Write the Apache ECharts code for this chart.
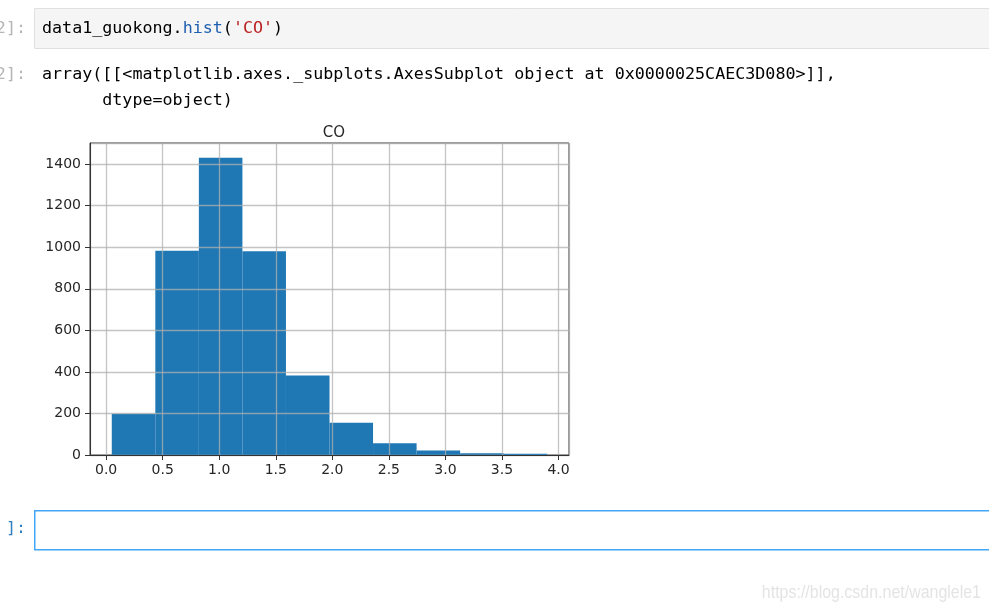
<!DOCTYPE html>
<html>
<head>
<meta charset="utf-8">
<script src="https://cdn.jsdelivr.net/npm/echarts@6/dist/echarts.min.js"></script>
<style>
html,body{margin:0;padding:0;background:#fff;}
#chart{width:989px;height:611px;}
</style>
</head>
<body>
<div id="chart"></div>
<script>
// Histogram of CO (10 bins)
const binEdges = [0.05, 0.435, 0.82, 1.205, 1.59, 1.975, 2.36, 2.745, 3.13, 3.515, 3.9];
const counts = [198, 983, 1430, 980, 382, 155, 56, 22, 8, 6];
const title = 'CO';
const outLine1 = "array([[<matplotlib.axes._subplots.AxesSubplot object at 0x0000025CAEC3D080>]],";
const outLine2 = "      dtype=object)";
const watermark = "https://blog.csdn.net/wanglele1";

const binData = counts.map((c, i) => [binEdges[i], binEdges[i + 1], c]);
const lo = binEdges[0], hi = binEdges[binEdges.length - 1];
const pad = (hi - lo) * 0.05;
const yMax = Math.max(...counts) * 1.05;

const mono = "'DejaVu Sans Mono', 'Liberation Mono', monospace";
const chart = echarts.init(document.getElementById('chart'));
chart.setOption({
  animation: false,
  backgroundColor: '#fff',
  title: {
    text: title, left: 329, top: 121, textAlign: 'center',
    textStyle: { fontSize: 15, fontWeight: 'normal', color: '#262626', fontFamily: 'DejaVu Sans' }
  },
  grid: { left: 90, top: 143, right: 420, bottom: 156, show: true, borderColor: '#333', borderWidth: 1, backgroundColor: 'transparent' },
  xAxis: {
    type: 'value', min: lo - pad, max: hi + pad, splitNumber: 8, z: 5,
    axisLine: { show: true, onZero: false, lineStyle: { color: '#333', width: 1 } },
    axisTick: { show: true, length: 5, lineStyle: { color: '#333' } },
    axisLabel: { showMinLabel: false, showMaxLabel: false, margin: 8, fontSize: 14, color: '#262626', fontFamily: 'DejaVu Sans',
      formatter: v => v.toFixed(1) },
    splitLine: { show: true, lineStyle: { color: 'rgba(176,176,176,0.75)', width: 1.3 } }
  },
  yAxis: {
    type: 'value', min: 0, max: yMax, interval: 200, z: 5,
    axisLine: { show: true, onZero: false, lineStyle: { color: '#333', width: 1 } },
    axisTick: { show: true, length: 5, lineStyle: { color: '#333' } },
    axisLabel: { showMaxLabel: false, margin: 9, fontSize: 14, color: '#262626', fontFamily: 'DejaVu Sans',
      formatter: v => String(Math.round(v)) },
    splitLine: { show: true, lineStyle: { color: 'rgba(176,176,176,0.75)', width: 1.3 } }
  },
  series: [{
    type: 'custom',
    data: binData,
    z: 2,
    renderItem: function (params, api) {
      const p0 = api.coord([api.value(0), api.value(2)]);
      const p1 = api.coord([api.value(1), 0]);
      return {
        type: 'rect',
        shape: { x: p0[0], y: p0[1], width: p1[0] - p0[0], height: p1[1] - p0[1] },
        style: { fill: '#1f77b4' }
      };
    }
  }],
  graphic: [
    { type: 'rect', left: 34, top: 8, shape: { width: 960, height: 40 }, style: { fill: '#f5f5f5', stroke: '#e0e0e0', lineWidth: 1 }, silent: true },
    { type: 'text', x: 26, y: 29, style: { text: '[2]:', fontSize: 16.7, fontFamily: mono, fill: '#b5b5b5', textAlign: 'right', textVerticalAlign: 'middle' } },
    { type: 'text', x: 42, y: 29, style: {
        text: '{k|data1_guokong.}{b|hist}{k|(}{s|\'CO\'}{k|)}',
        textVerticalAlign: 'middle',
        rich: {
          k: { fontSize: 16.7, fontFamily: mono, fill: '#000', color: '#000' },
          b: { fontSize: 16.7, fontFamily: mono, fill: '#2060b0', color: '#2060b0' },
          s: { fontSize: 16.7, fontFamily: mono, fill: '#ba2121', color: '#ba2121' }
        }
      } },
    { type: 'text', x: 26, y: 75, style: { text: '[2]:', fontSize: 16.7, fontFamily: mono, fill: '#b5b5b5', textAlign: 'right', textVerticalAlign: 'middle' } },
    { type: 'text', x: 42, y: 75, style: { text: outLine1, fontSize: 16.7, fontFamily: mono, fill: '#000', textVerticalAlign: 'middle' } },
    { type: 'text', x: 42, y: 101, style: { text: outLine2, fontSize: 16.7, fontFamily: mono, fill: '#000', textVerticalAlign: 'middle' } },
    { type: 'rect', left: 34, top: 510, shape: { width: 960, height: 39 }, style: { fill: '#fff', stroke: '#42a5f5', lineWidth: 1.5 }, silent: true },
    { type: 'text', x: 26, y: 529, style: { text: '[ ]:', fontSize: 16.7, fontFamily: mono, fill: '#307fc1', textAlign: 'right', textVerticalAlign: 'middle' } },
    { type: 'text', x: 981, y: 593, scaleX: 0.84,
      style: { text: watermark, fontSize: 19, fontFamily: "'Liberation Sans', sans-serif", fill: '#e4e4e4', textAlign: 'right', textVerticalAlign: 'middle' } }
  ]
});
</script>
</body>
</html>
